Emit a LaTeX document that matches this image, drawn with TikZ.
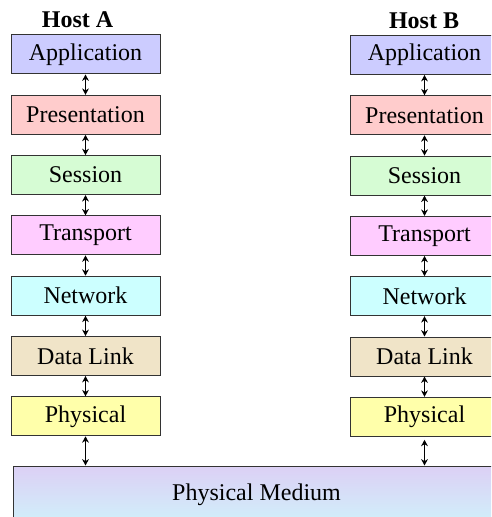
\documentclass[tikz,border=0pt]{standalone}
\usepackage{fontspec}
\setmainfont{Liberation Serif}
\usetikzlibrary{arrows.meta}
\definecolor{appcol}{RGB}{204,204,255}
\definecolor{prescol}{RGB}{255,204,204}
\definecolor{sesscol}{RGB}{214,252,212}
\definecolor{transcol}{RGB}{255,204,255}
\definecolor{netcol}{RGB}{204,255,255}
\definecolor{linkcol}{RGB}{240,228,200}
\definecolor{physcol}{RGB}{255,255,170}
\definecolor{medtop}{RGB}{220,208,245}
\definecolor{medbot}{RGB}{208,240,250}
\tikzset{
  layer/.style={draw=black!80, line width=0.5pt, minimum width=74.5pt, minimum height=19.5pt, inner sep=0pt, font=\fontsize{12}{14}\selectfont},
  link/.style={{Stealth[length=3.2pt,width=3.4pt]}-{Stealth[length=3.2pt,width=3.4pt]}, line width=0.7pt},
  host/.style={font=\fontsize{12}{14}\selectfont\bfseries}
}
\begin{document}
\begin{tikzpicture}[x=0.5pt,y=-0.5pt]
    \useasboundingbox (0,0) rectangle (491,517);
    \clip (0,0) rectangle (491,517);

    % host labels
    \node[host] (hostA) at (77.5,20) {Host A};
    \node[host] (hostB) at (424,21) {Host B};

    % the two protocol stacks
    \foreach \txt/\col [count=\i] in {Application/appcol, Presentation/prescol, Session/sesscol, Transport/transcol, Network/netcol, Data Link/linkcol, Physical/physcol} {
        \node[layer, fill=\col] (A\i) at (85.5, 54.5+60.3*\i-60.3) {\txt};
        \node[layer, fill=\col] (B\i) at (424.5, 55+60.3*\i-60.3) {\txt};
    }

    % draw arrows between layers
    \foreach \i [evaluate=\i as \j using int(\i+1)] in {1,...,6} {
        \draw[link] (A\i.south) -- (A\j.north);
        \draw[link] (B\i.south) -- (B\j.north);
    }

    % shared medium
    \node[layer, minimum width=243.5pt, minimum height=29pt, top color=medtop, bottom color=medbot] (med) at (256.5,495) {Physical Medium};
    \draw[link] (A7.south) -- (A7.south |- med.north);
    \draw[link] ([yshift=-1.5pt]B7.south) -- (B7.south |- med.north);
\end{tikzpicture}
\end{document}
